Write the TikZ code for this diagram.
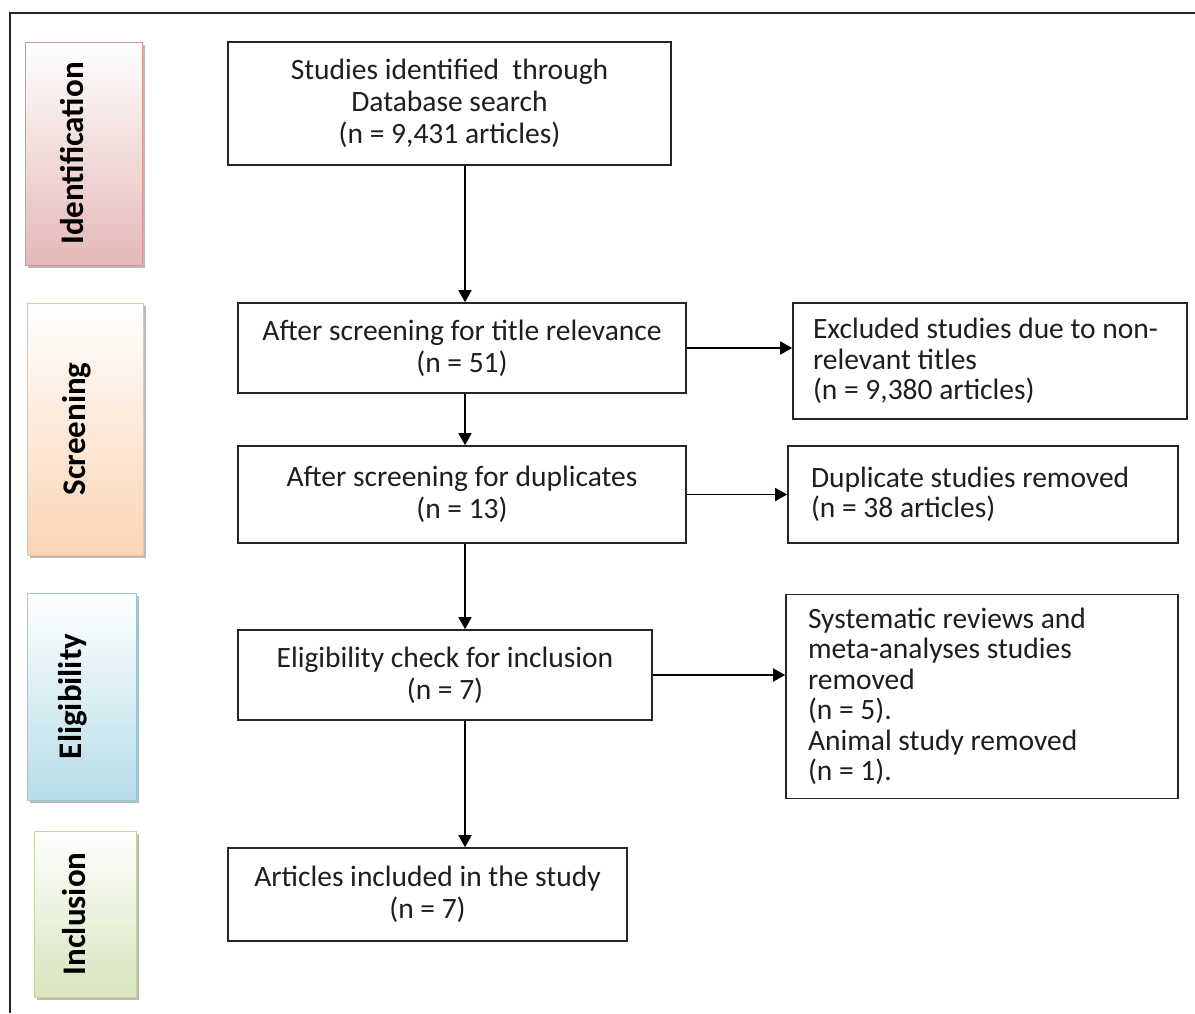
\documentclass[tikz,border=0pt]{standalone}
\usepackage{fontspec}
\setmainfont{Carlito}
\usetikzlibrary{arrows.meta,shadows}

\definecolor{idfill}{HTML}{E5B8B7}
\definecolor{idline}{HTML}{D99694}
\definecolor{scfill}{HTML}{FBD4B4}
\definecolor{scline}{HTML}{FAC090}
\definecolor{elfill}{HTML}{B6DDE8}
\definecolor{elline}{HTML}{93CDDD}
\definecolor{infill}{HTML}{D7E4BD}
\definecolor{inline}{HTML}{C3D69B}
\definecolor{txt}{HTML}{1E1E1E}

\tikzstyle{arrow} = [line width=1.5pt, -{Triangle[length=12pt,width=13pt]}]
\tikzstyle{stepbox} = [draw=black!85, line width=1.6pt, inner sep=0pt, align=center, text=txt]
\tikzstyle{outbox} = [draw=black!85, line width=1.6pt, inner ysep=0pt, align=flush left, text=txt,
  font=\fontsize{29.5}{30.5}\selectfont]
\tikzstyle{phase} = [line width=1pt, inner sep=0pt, top color=white, text=black,
  drop shadow={shadow xshift=3pt, shadow yshift=-3pt, fill=black!45, opacity=.6}]

\newcommand{\phasetext}[1]{\rotatebox{90}{\fontsize{33}{38}\selectfont\bfseries\strut #1}\hspace*{15pt}}

\begin{document}
\begin{tikzpicture}[x=1pt, y=-1pt, font=\fontsize{29.5}{32}\selectfont]
    \useasboundingbox (0,0) rectangle (1195,1013);
    \draw [line width=2pt, black!85] (1195,12.5) -- (10,12.5) -- (10,1013);

    % phases on the left
    \node (ident) [phase, bottom color=idfill, draw=idline, minimum width=117pt, minimum height=223pt] at (83.5,153.5) {\phasetext{Identification}};
    \node (screen) [phase, bottom color=scfill, draw=scline, minimum width=116pt, minimum height=252pt] at (85,429) {\phasetext{Screening}};
    \node (elig) [phase, bottom color=elfill, draw=elline, minimum width=109pt, minimum height=207pt] at (81.5,696.5) {\phasetext{Eligibility}};
    \node (incl) [phase, bottom color=infill, draw=inline, minimum width=102pt, minimum height=166pt] at (85,914) {\phasetext{Inclusion}};

    % main flow
    \coordinate (spine) at (465,0);

    \node (found) [stepbox, minimum width=443pt, minimum height=123pt] at (449.5,103.5) {Studies identified\ \ through\\Database search\\(n = 9,431 articles)};

    \node (titles) [stepbox, minimum width=448pt, minimum height=90pt] at (462,348) {After screening for title relevance\\(n = 51)};
    \draw [arrow] (found.south -| spine) -- (titles.north -| spine);

    \node (dups) [stepbox, minimum width=448pt, minimum height=97pt] at (462,494.5) {After screening for duplicates\\(n = 13)};
    \draw [arrow] (titles.south -| spine) -- (dups.north -| spine);

    \node (check) [stepbox, minimum width=414pt, minimum height=90pt] at (445,675) {Eligibility check for inclusion\\(n = 7)};
    \draw [arrow] (dups.south -| spine) -- (check.north -| spine);

    \node (final) [stepbox, minimum width=399pt, minimum height=93pt] at (427.5,894.5) {Articles included in the study\\(n = 7)};
    \draw [arrow] (check.south -| spine) -- (final.north -| spine);

    % excluded on the right
    \node (nontitle) [outbox, inner xsep=20pt, text width=354pt, minimum height=116pt] at (990,361) {Excluded studies due to non-\\relevant titles\\(n = 9,380 articles)};
    \draw [arrow] (titles.east) -- (titles.east -| nontitle.west);

    \node (dupout) [outbox, inner xsep=23pt, text width=344pt, minimum height=97pt] at (983,494.5) {Duplicate studies removed\\(n = 38 articles)};
    \draw [arrow] (dups.east) -- (dups.east -| dupout.west);

    \node (reviews) [outbox, inner xsep=22pt, text width=348pt, minimum height=204pt] at (982,696.5) {Systematic reviews and\\meta-analyses studies\\removed\\(n = 5).\\Animal study removed\\(n = 1).};
    \draw [arrow] (check.east) -- (check.east -| reviews.west);

  \end{tikzpicture}
\end{document}
